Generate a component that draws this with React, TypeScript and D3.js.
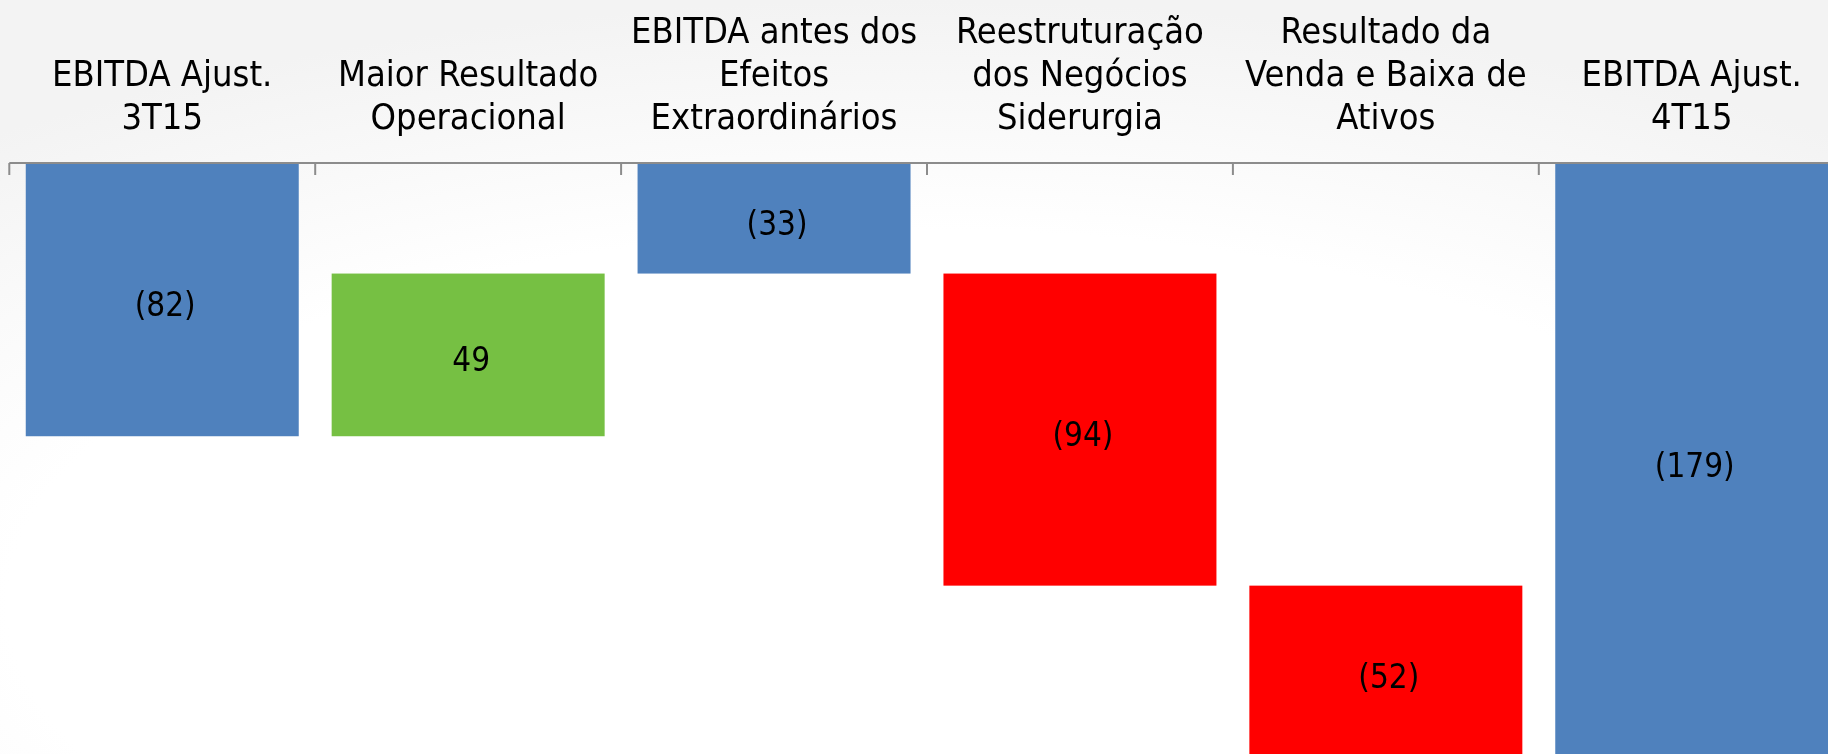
import React from "react";
import { scaleBand, scaleLinear } from "d3";

// categories of the bridge (3T15 -> 4T15), in R$ million
const categories = [
  ["EBITDA Ajust.", "3T15"],
  ["Maior Resultado", "Operacional"],
  ["EBITDA antes dos", "Efeitos", "Extraordinários"],
  ["Reestruturação", "dos Negócios", "Siderurgia"],
  ["Resultado da", "Venda e Baixa de", "Ativos"],
  ["EBITDA Ajust.", "4T15"],
];
const values = [-82, 49, -33, -94, -52, -179];
const isTotal = [true, false, true, false, false, true];

const colors = { total: "#4F81BD", up: "#76C043", down: "#FF0000" };

const W = 1828;
const H = 754;
const FONT = "'DejaVu Sans Condensed', 'DejaVu Sans', sans-serif";

export default function App() {
  // start/end of every bar in the waterfall
  let running = 0;
  const bars = values.map((v, i) => {
    let start, end;
    if (isTotal[i]) {
      start = 0;
      end = v;
      running = v;
    } else {
      start = running;
      end = running + v;
      running = end;
    }
    const kind = isTotal[i] ? "total" : v >= 0 ? "up" : "down";
    return { key: i, start, end, value: v, kind };
  });

  const pad = 0.1076;
  const x = scaleBand<number>()
    .domain(categories.map((_, i) => i))
    .range([9.3, 9.3 + 305.9 * categories.length])
    .paddingInner(pad)
    .paddingOuter(pad / 2);

  const y = scaleLinear().domain([0, -179]).range([164, 164 + 179 * 3.32]);

  const step = x.step();
  const x0 = x.range()[0];
  const lineH = 43.3;
  const lastBaseline = 129.3;

  const fmt = (v: number) => (v < 0 ? `(${Math.abs(v)})` : `${v}`);

  return (
    <div style={{ position: "fixed", left: 0, top: 0, width: W, height: H }}>
      <svg width={W} height={H} style={{ display: "block" }}>
        <defs>
          <radialGradient id="bg" cx="50%" cy="80%" r="80%">
            <stop offset="62%" stopColor="#ffffff" />
            <stop offset="100%" stopColor="#f3f3f3" />
          </radialGradient>
        </defs>
        <rect x={0} y={0} width={W} height={H} fill="url(#bg)" />

        {bars.map((b) => {
          const top = Math.min(y(b.start), y(b.end));
          const bottom = Math.max(y(b.start), y(b.end));
          const cx = (x(b.key) ?? 0) + x.bandwidth() / 2;
          return (
            <g key={b.key}>
              <rect
                x={x(b.key)}
                y={top}
                width={x.bandwidth()}
                height={bottom - top}
                fill={colors[b.kind as keyof typeof colors]}
              />
              <text
                x={cx + 3}
                y={(top + bottom) / 2 + 16}
                textAnchor="middle"
                fontFamily={FONT}
                style={{ fontStretch: "condensed" }}
                fontSize={33}
                fill="#000"
              >
                {fmt(b.value)}
              </text>
            </g>
          );
        })}

        {/* axis line and tick marks */}
        <line x1={x0} x2={W} y1={163} y2={163} stroke="#8c8c8c" strokeWidth={2} />
        {categories.map((_, i) => (
          <line
            key={i}
            x1={x0 + i * step}
            x2={x0 + i * step}
            y1={163}
            y2={175}
            stroke="#8c8c8c"
            strokeWidth={2}
          />
        ))}

        {categories.map((lines, i) => {
          const cx = (x(i) ?? 0) + x.bandwidth() / 2;
          return (
            <text
              key={i}
              textAnchor="middle"
              fontFamily={FONT}
              style={{ fontStretch: "condensed" }}
              fontSize={36}
              fill="#000"
            >
              {lines.map((l, j) => (
                <tspan key={j} x={cx} y={lastBaseline - (lines.length - 1 - j) * lineH}>
                  {l}
                </tspan>
              ))}
            </text>
          );
        })}
      </svg>
    </div>
  );
}
